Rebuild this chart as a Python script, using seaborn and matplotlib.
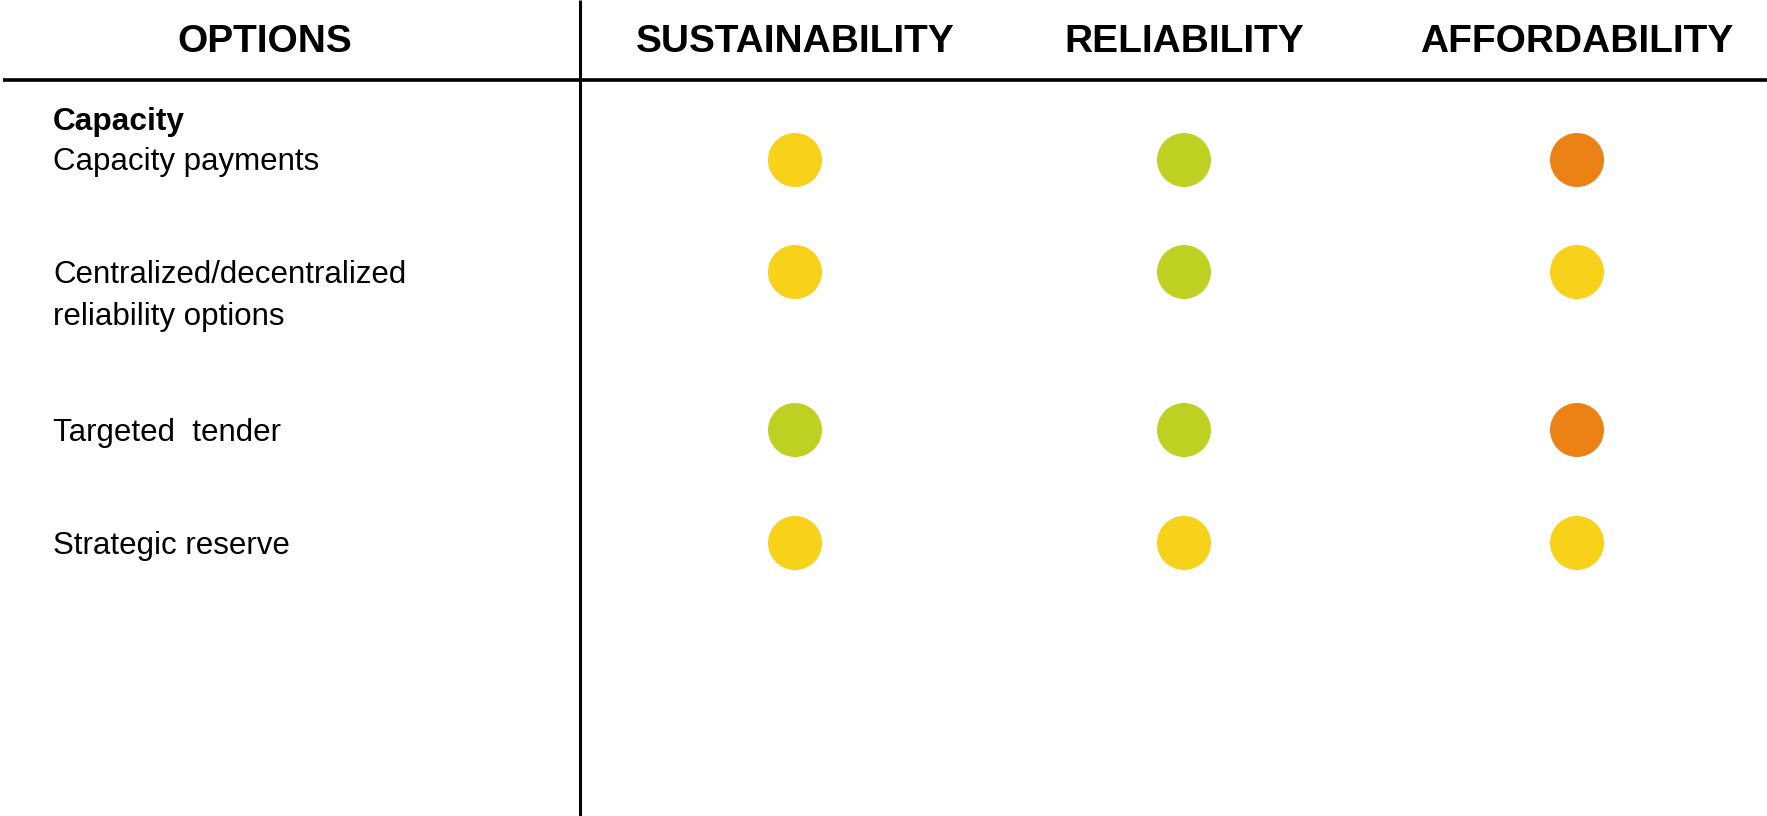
import matplotlib
matplotlib.use("Agg")
import matplotlib.pyplot as plt
import seaborn as sns
import pandas as pd

# ---------------- data ----------------
criteria = ["SUSTAINABILITY", "RELIABILITY", "AFFORDABILITY"]
options = ["Capacity payments", "Centralized/decentralized\nreliability options",
           "Targeted  tender", "Strategic reserve"]
group_title = "Capacity"
header_left = "OPTIONS"
sustainability = ["medium", "medium", "good", "medium"]
reliability = ["good", "good", "good", "medium"]
affordability = ["poor", "medium", "poor", "medium"]
rating_colors = {"good": "#BED122", "medium": "#F7D11A", "poor": "#EC8115"}

# ---------------- layout ----------------
W, H = 1767, 816
col_x = [795, 1184, 1577]      # pixel centres of criteria columns
row_y = [160, 272, 430, 543]   # pixel centres of option rows
label_x = 53
divider_x = 580
header_line_y = 80
line_gap = 42

sns.set_theme(style="white")
plt.rcParams["font.family"] = ["Liberation Sans", "DejaVu Sans"]
plt.rcParams["text.color"] = "black"

rows = []
for crit, vals in zip(criteria, [sustainability, reliability, affordability]):
    for opt, v in zip(options, vals):
        rows.append({"criterion": crit, "option": opt, "rating": v})
df = pd.DataFrame(rows)
df["x"] = df["criterion"].map(dict(zip(criteria, col_x)))
df["y"] = df["option"].map(dict(zip(options, row_y)))

fig = plt.figure(figsize=(W / 100, H / 100), dpi=100)
ax = fig.add_axes([0, 0, 1, 1])
ax.set_xlim(0, W)
ax.set_ylim(H, 0)
ax.axis("off")

diam_pt = 54 * 72 / 100
sns.scatterplot(data=df, x="x", y="y", hue="rating", palette=rating_colors,
                s=diam_pt ** 2, linewidth=0, legend=False, ax=ax, zorder=3)

# grid lines
ax.plot([3, W], [header_line_y, header_line_y], color="black", lw=2.6,
        solid_capstyle="butt")
ax.plot([divider_x, divider_x], [0, H], color="black", lw=2.2,
        solid_capstyle="butt")

# headers
ax.text(265, 52, header_left, ha="center", va="baseline", fontsize=28,
        fontweight="bold", color="black")
for crit, x in zip(criteria, col_x):
    ax.text(x, 52, crit, ha="center", va="baseline", fontsize=28,
            fontweight="bold", color="black")

# row labels
ax.text(label_x, 130, group_title, ha="left", va="baseline", fontsize=22.8,
        fontweight="bold", color="black")
baselines = [170, 283, 441, 554]
for opt, b in zip(options, baselines):
    for k, line in enumerate(opt.split("\n")):
        ax.text(label_x, b + k * line_gap, line, ha="left", va="baseline",
                fontsize=22.5, color="black")

fig.savefig("out.png", dpi=100)
